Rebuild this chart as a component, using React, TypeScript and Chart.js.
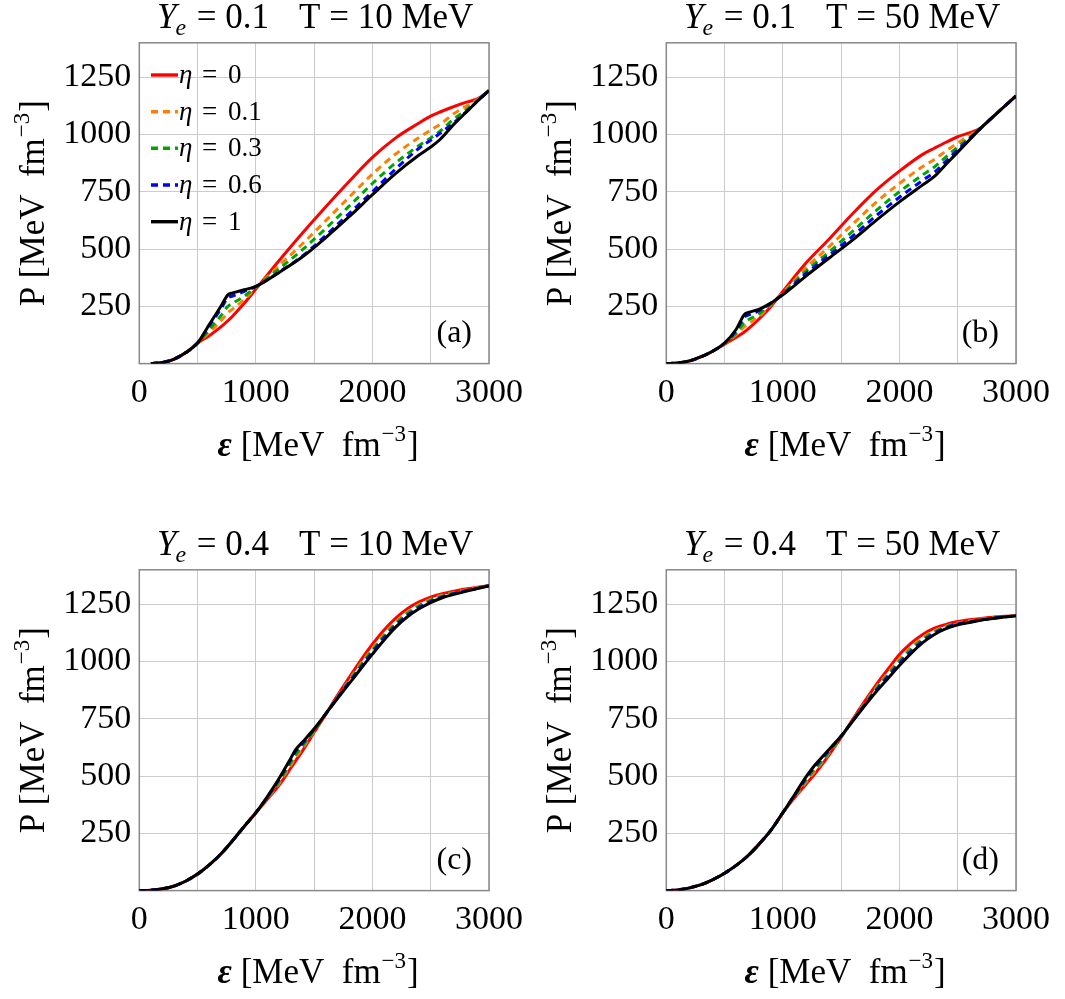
import React, { useEffect, useRef } from 'react';
import { Chart, registerables } from 'chart.js';

Chart.register(...registerables);

// ---------- shared labels ----------
const ETA_LABELS = ['0', '0.1', '0.3', '0.6', '1'];
const X_TICK_LABELS = [0, 1000, 2000, 3000];
const Y_TICK_LABELS = [250, 500, 750, 1000, 1250];

// ---------- panel (a): Ye = 0.1, T = 10 MeV ----------
const EPS_A = [100, 200, 300, 400, 500, 600, 700, 760, 800, 900, 1000, 1200, 1400, 1600, 1800, 2000, 2200, 2400, 2500, 2580, 2700, 2800, 2900, 3000];
const A_ETA_0 = [0, 5, 20, 48, 90, 122, 160, 187, 207, 263, 325, 450, 570, 685, 795, 900, 985, 1050, 1080, 1098, 1122, 1140, 1155, 1190];
const A_ETA_01 = [0, 5, 20, 48, 90, 136, 187, 222, 238, 280, 331, 428, 523, 624, 726, 827, 915, 987, 1019, 1044, 1091, 1122, 1152, 1192];
const A_ETA_03 = [0, 5, 20, 48, 90, 148, 209, 250, 263, 294, 334, 414, 497, 590, 687, 786, 876, 952, 985, 1014, 1068, 1106, 1148, 1192];
const A_ETA_06 = [0, 5, 20, 48, 90, 164, 239, 287, 295, 315, 336, 400, 470, 560, 655, 750, 850, 940, 975, 1005, 1052, 1097, 1146, 1192];
const A_ETA_1 = [0, 5, 20, 48, 90, 170, 250, 300, 308, 322, 337, 398, 466, 550, 641, 737, 830, 910, 945, 978, 1045, 1095, 1145, 1192];

// ---------- panel (b): Ye = 0.1, T = 50 MeV ----------
const EPS_B = [0, 100, 200, 300, 400, 500, 600, 670, 700, 800, 900, 950, 1000, 1200, 1400, 1600, 1800, 2000, 2200, 2300, 2400, 2500, 2600, 2700, 2800, 2900, 3000];
const B_ETA_0 = [0, 3, 12, 30, 54, 85, 115, 138, 150, 197, 250, 283, 315, 440, 545, 655, 756, 840, 913, 940, 966, 990, 1007, 1029, 1076, 1122, 1168];
const B_ETA_01 = [0, 3, 12, 30, 55, 87, 126, 161, 172, 208, 258, 283, 309, 418, 512, 609, 704, 786, 860, 891, 928, 963, 995, 1029, 1076, 1122, 1168];
const B_ETA_03 = [0, 3, 12, 30, 55, 88, 134, 180, 190, 219, 261, 283, 305, 404, 489, 578, 668, 750, 824, 858, 902, 945, 986, 1029, 1076, 1122, 1168];
const B_ETA_06 = [0, 3, 12, 30, 55, 89, 145, 203, 211, 232, 264, 283, 302, 394, 474, 557, 645, 726, 800, 835, 884, 933, 981, 1029, 1076, 1122, 1168];
const B_ETA_1 = [0, 3, 12, 30, 55, 90, 150, 214, 222, 238, 265, 283, 300, 383, 462, 540, 625, 706, 780, 817, 870, 923, 976, 1029, 1076, 1122, 1168];

// ---------- panel (c): Ye = 0.4, T = 10 MeV ----------
const EPS_C = [0, 100, 200, 300, 400, 500, 600, 700, 800, 900, 1000, 1100, 1200, 1300, 1340, 1400, 1500, 1600, 1700, 1800, 1900, 2000, 2100, 2200, 2300, 2400, 2500, 2600, 2700, 2800, 2900, 3000];
const C_ETA_0 = [0, 2, 8, 20, 42, 72, 112, 160, 218, 280, 340, 400, 460, 535, 565, 610, 690, 770, 852, 930, 1005, 1075, 1137, 1189, 1230, 1260, 1281, 1296, 1307, 1316, 1324, 1331];
const C_ETA_01 = [0, 2, 8, 20, 42, 72, 112, 160, 218, 280, 340, 403, 469, 548, 580, 621, 695, 771, 846, 919, 990, 1058, 1120, 1173, 1216, 1248, 1271, 1289, 1301, 1312, 1322, 1331];
const C_ETA_03 = [0, 2, 8, 20, 42, 72, 112, 160, 218, 280, 340, 406, 477, 559, 592, 631, 699, 771, 844, 914, 983, 1049, 1111, 1166, 1209, 1242, 1267, 1285, 1299, 1310, 1320, 1331];
const C_ETA_06 = [0, 2, 8, 20, 42, 72, 112, 160, 218, 280, 340, 409, 486, 572, 607, 642, 704, 771, 841, 908, 975, 1041, 1103, 1158, 1202, 1236, 1262, 1282, 1296, 1308, 1319, 1331];
const C_ETA_1 = [0, 2, 8, 20, 42, 72, 112, 160, 218, 280, 340, 411, 490, 578, 614, 648, 706, 772, 838, 903, 968, 1032, 1094, 1150, 1195, 1230, 1257, 1278, 1293, 1306, 1318, 1330];

// ---------- panel (d): Ye = 0.4, T = 50 MeV ----------
const EPS_D = [0, 100, 200, 300, 400, 500, 600, 700, 800, 900, 1000, 1100, 1200, 1270, 1300, 1400, 1500, 1600, 1700, 1800, 1900, 2000, 2100, 2200, 2300, 2400, 2500, 2600, 2700, 2800, 2900, 3000];
const D_ETA_0 = [0, 3, 12, 26, 48, 76, 110, 152, 205, 265, 340, 405, 465, 507, 526, 595, 668, 748, 825, 898, 965, 1030, 1080, 1118, 1145, 1162, 1174, 1182, 1188, 1193, 1197, 1199];
const D_ETA_01 = [0, 3, 12, 26, 48, 76, 110, 152, 205, 265, 340, 409, 475, 519, 537, 602, 670, 745, 817, 886, 949, 1011, 1062, 1104, 1134, 1154, 1168, 1177, 1185, 1191, 1196, 1199];
const D_ETA_03 = [0, 3, 12, 26, 48, 76, 110, 152, 205, 265, 340, 412, 483, 528, 545, 607, 672, 743, 813, 880, 941, 1001, 1053, 1096, 1129, 1151, 1166, 1175, 1183, 1189, 1195, 1199];
const D_ETA_06 = [0, 3, 12, 26, 48, 76, 110, 152, 205, 265, 340, 416, 492, 539, 556, 615, 674, 742, 809, 874, 933, 992, 1044, 1089, 1123, 1147, 1163, 1172, 1182, 1188, 1195, 1199];
const D_ETA_1 = [0, 3, 12, 26, 48, 76, 110, 152, 205, 265, 340, 418, 497, 545, 562, 618, 675, 740, 805, 868, 925, 982, 1035, 1082, 1118, 1143, 1160, 1170, 1180, 1187, 1194, 1199];

// ---------- styles ----------
const COLORS = ['#ff0000', '#ff8000', '#00a600', '#0000ff', '#000000'];
const DASHES: number[][] = [[], [7, 5], [7, 5], [7, 5], []];
const SERIF = '"Liberation Serif", "DejaVu Serif", serif';
const GRID_COLOR = '#cccccc';
const FRAME_COLOR = '#888888';

// canvas geometry (per panel)
const W = 532;
const H = 472;
const CA = { left: 139.3, top: 42.8, right: 495.6, bottom: 363.6 };

type Seg = { t: string; f: string; dy?: number; gap?: number };

function font(size: number, style = 'normal', weight = 'normal') {
  return `${style} ${weight} ${size}px ${SERIF}`;
}

function drawSegs(ctx: CanvasRenderingContext2D, segs: Seg[], x: number, y: number, align: 'left' | 'center' | 'right') {
  ctx.textAlign = 'left';
  ctx.textBaseline = 'alphabetic';
  const widths = segs.map((s) => {
    ctx.font = s.f;
    return ctx.measureText(s.t).width + (s.gap || 0);
  });
  const total = widths.reduce((a, b) => a + b, 0);
  let cx = align === 'center' ? x - total / 2 : align === 'right' ? x - total : x;
  segs.forEach((s, i) => {
    ctx.font = s.f;
    ctx.fillText(s.t, cx + (s.gap || 0), y + (s.dy || 0));
    cx += widths[i];
  });
}

function unitSegs(size: number, lead: Seg[]): Seg[] {
  return [
    ...lead,
    { t: ' [MeV  fm', f: font(size) },
    { t: '\u22123', f: font(Math.round(size * 0.66)), dy: -Math.round(size * 0.42), gap: 1 },
    { t: ']', f: font(size), gap: 1 },
  ];
}

const PANELS = [
  { id: 'a', ye: '0.1', temp: '10', eps: EPS_A, ys: [A_ETA_0, A_ETA_01, A_ETA_03, A_ETA_06, A_ETA_1], legend: true, left: 0, top: 0 },
  { id: 'b', ye: '0.1', temp: '50', eps: EPS_B, ys: [B_ETA_0, B_ETA_01, B_ETA_03, B_ETA_06, B_ETA_1], legend: false, left: 527, top: 0 },
  { id: 'c', ye: '0.4', temp: '10', eps: EPS_C, ys: [C_ETA_0, C_ETA_01, C_ETA_03, C_ETA_06, C_ETA_1], legend: false, left: 0, top: 527 },
  { id: 'd', ye: '0.4', temp: '50', eps: EPS_D, ys: [D_ETA_0, D_ETA_01, D_ETA_03, D_ETA_06, D_ETA_1], legend: false, left: 527, top: 527 },
];

type PanelDef = (typeof PANELS)[number];

function Panel({ p }: { p: PanelDef }) {
  const ref = useRef<HTMLCanvasElement | null>(null);

  useEffect(() => {
    const canvas = ref.current;
    if (!canvas) return;

    const decor = {
      id: 'decor-' + p.id,
      beforeDatasetsDraw(chart: any) {
        const { ctx, chartArea: a } = chart;
        ctx.save();
        ctx.strokeStyle = FRAME_COLOR;
        ctx.lineWidth = 1.5;
        ctx.strokeRect(a.left, a.top, a.right - a.left, a.bottom - a.top);
        ctx.restore();
      },
      afterDraw(chart: any) {
        const { ctx, chartArea: a } = chart;
        const cx = (a.left + a.right) / 2;
        const cy = (a.top + a.bottom) / 2;
        ctx.save();
        ctx.fillStyle = '#000';
        // title
        drawSegs(
          ctx,
          [
            { t: 'Y', f: font(35, 'italic') },
            { t: 'e', f: font(24, 'italic'), dy: 7, gap: -1 },
            { t: ' = ' + p.ye, f: font(35), gap: 2 },
            { t: 'T = ' + p.temp + ' MeV', f: font(35), gap: 30 },
          ],
          cx + 1,
          a.top - 15,
          'center'
        );
        // x-axis title
        drawSegs(ctx, unitSegs(35, [{ t: '\u03b5', f: font(35, 'italic', 'bold') }]), cx + 4, a.bottom + 92, 'center');
        // y-axis title (rotated)
        ctx.save();
        ctx.translate(a.left - 106, cy);
        ctx.rotate(-Math.PI / 2);
        drawSegs(ctx, unitSegs(35, [{ t: 'P', f: font(35) }]), 0, 11, 'center');
        ctx.restore();
        // panel label
        drawSegs(ctx, [{ t: '(' + p.id + ')', f: font(32) }], a.right - 17, a.bottom - 22, 'right');
        // legend
        if (p.legend) {
          const rowY = [75, 111.7, 148.3, 185, 221.7];
          ETA_LABELS.forEach((lab, i) => {
            const y = rowY[i];
            ctx.save();
            ctx.strokeStyle = COLORS[i];
            ctx.lineWidth = 3.4;
            ctx.setLineDash(DASHES[i]);
            ctx.beginPath();
            ctx.moveTo(151, y);
            ctx.lineTo(178, y);
            ctx.stroke();
            ctx.restore();
            ctx.fillStyle = '#000';
            drawSegs(ctx, [{ t: '\u03b7', f: font(27, 'italic') }], 179, y + 8, 'left');
            drawSegs(ctx, [{ t: '=', f: font(27) }], 202, y + 8, 'left');
            drawSegs(ctx, [{ t: lab, f: font(27) }], 228, y + 8, 'left');
          });
        }
        ctx.restore();
      },
    };

    const datasets = p.ys.map((ys, i) => ({
      label: '\u03b7 = ' + ETA_LABELS[i],
      data: p.eps.map((x, j) => ({ x, y: ys[j] })),
      borderColor: COLORS[i],
      backgroundColor: COLORS[i],
      borderWidth: 3,
      borderDash: DASHES[i],
      pointRadius: 0,
      fill: false,
      cubicInterpolationMode: 'monotone' as const,
      order: 4 - i,
    }));

    const chart = new Chart(canvas, {
      type: 'line',
      data: { datasets },
      options: {
        animation: false,
        responsive: false,
        maintainAspectRatio: false,
        devicePixelRatio: 1,
        layout: { padding: { left: 0, top: CA.top, right: W - CA.right, bottom: 0 } },
        plugins: {
          legend: { display: false },
          tooltip: { enabled: false },
          title: { display: false },
        },
        scales: {
          x: {
            type: 'linear',
            min: 0,
            max: 3000,
            afterFit: (s: any) => {
              s.height = H - CA.bottom;
            },
            ticks: {
              stepSize: 500,
              autoSkip: false,
              maxRotation: 0,
              padding: 9,
              color: '#000',
              font: { family: SERIF, size: 34 },
              callback: (v: any) => (X_TICK_LABELS.includes(Number(v)) ? String(v) : ''),
            },
            grid: { color: GRID_COLOR, lineWidth: 1, drawTicks: false },
            border: { display: false },
          },
          y: {
            type: 'linear',
            min: 0,
            max: 1400,
            afterFit: (s: any) => {
              s.width = CA.left;
            },
            ticks: {
              stepSize: 250,
              includeBounds: false,
              autoSkip: false,
              padding: 8,
              color: '#000',
              font: { family: SERIF, size: 34 },
              callback: (v: any) => (Y_TICK_LABELS.includes(Number(v)) ? String(v) : ''),
            },
            grid: { color: GRID_COLOR, lineWidth: 1, drawTicks: false },
            border: { display: false },
          },
        },
      },
      plugins: [decor],
    } as any);

    return () => chart.destroy();
  }, [p]);

  return (
    <canvas
      ref={ref}
      width={W}
      height={H}
      style={{ position: 'absolute', left: p.left, top: p.top, width: W, height: H }}
    />
  );
}

export default function App() {
  return (
    <div style={{ position: 'absolute', left: 0, top: 0, width: 1065, height: 999, background: '#fff' }}>
      {PANELS.map((p) => (
        <Panel key={p.id} p={p} />
      ))}
    </div>
  );
}
